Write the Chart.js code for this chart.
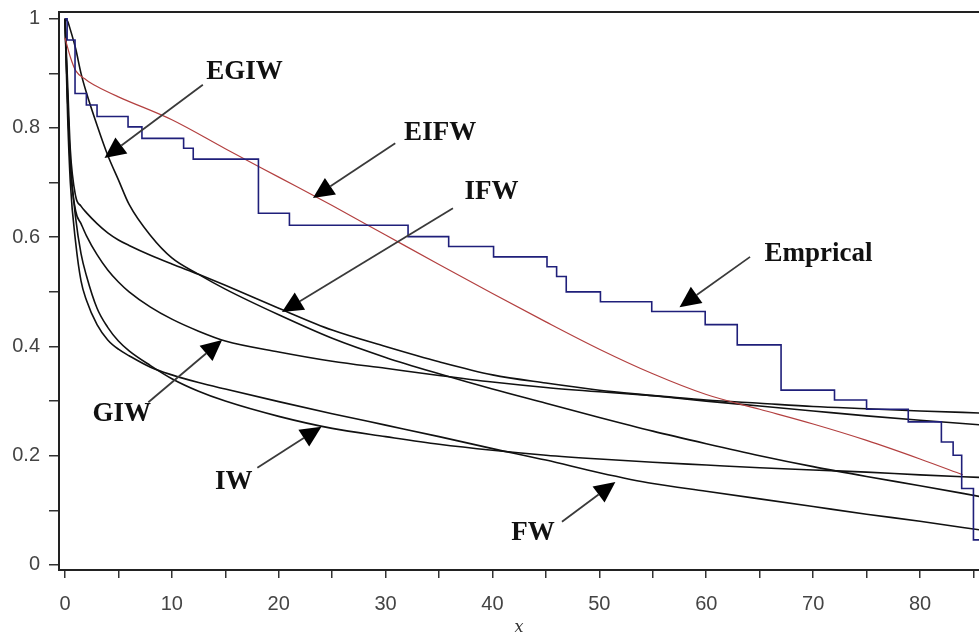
<!DOCTYPE html>
<html>
<head>
<meta charset="utf-8">
<script src="https://cdn.jsdelivr.net/npm/chart.js@4.4.1/dist/chart.umd.min.js"></script>
<style>
  body { margin: 0; background: #fff; }
  canvas { display: block; }
</style>
</head>
<body>
<canvas id="plot" width="979" height="637"></canvas>
<script>
// x grid shared by the fitted survival curves
let xs = [0, 0.25, 0.5, 1, 1.5, 2, 3, 4, 5, 6, 8, 10, 12.5, 15, 20, 25, 30, 35, 40, 45, 50, 55, 60, 65, 70, 75, 80, 86];

let egiw = [1.0, 0.995, 0.98, 0.945, 0.9, 0.865, 0.805, 0.75, 0.705, 0.66, 0.603, 0.562, 0.532, 0.505, 0.458, 0.415, 0.38, 0.35, 0.322, 0.296, 0.27, 0.245, 0.222, 0.2, 0.18, 0.162, 0.145, 0.124];
let ifw = [1.0, 0.88, 0.76, 0.675, 0.657, 0.645, 0.625, 0.608, 0.595, 0.585, 0.567, 0.551, 0.532, 0.512, 0.47, 0.43, 0.4, 0.372, 0.348, 0.333, 0.32, 0.31, 0.3, 0.291, 0.282, 0.273, 0.265, 0.256];
let giw = [1.0, 0.85, 0.73, 0.648, 0.625, 0.603, 0.568, 0.54, 0.518, 0.5, 0.472, 0.45, 0.428, 0.41, 0.39, 0.373, 0.36, 0.347, 0.335, 0.325, 0.317, 0.31, 0.302, 0.296, 0.29, 0.286, 0.282, 0.278];
let iw = [1.0, 0.85, 0.74, 0.635, 0.57, 0.53, 0.47, 0.435, 0.41, 0.392, 0.365, 0.341, 0.318, 0.3, 0.272, 0.25, 0.235, 0.221, 0.21, 0.201, 0.194, 0.188, 0.183, 0.178, 0.174, 0.17, 0.165, 0.16];
let fw = [1.0, 0.82, 0.7, 0.59, 0.52, 0.485, 0.44, 0.412, 0.395, 0.383, 0.362, 0.348, 0.334, 0.322, 0.299, 0.277, 0.256, 0.235, 0.213, 0.192, 0.169, 0.149, 0.135, 0.121, 0.107, 0.093, 0.08, 0.063];

// EIFW (red)
let eifwX = [0, 0.5, 1, 2, 3, 5, 10, 15, 20, 25, 30, 35, 40, 45, 50, 55, 60, 65, 70, 75, 80, 84];
let eifw = [0.965, 0.93, 0.905, 0.888, 0.876, 0.857, 0.815, 0.762, 0.71, 0.658, 0.604, 0.55, 0.497, 0.445, 0.395, 0.35, 0.312, 0.285, 0.258, 0.228, 0.194, 0.165];

// empirical survival (step): value from each x onward
let empX = [0, 0.2, 0.94, 2.0, 3.0, 5.9, 7.2, 11.1, 12.0, 18.1, 21.0, 32.1, 35.9, 40.1, 45.1, 46.0, 46.9, 50.1, 54.9, 59.9, 62.9, 67.0, 72.0, 75.0, 78.9, 82.0, 83.1, 83.9, 85.0, 87];
let empY = [1.0, 0.961, 0.863, 0.842, 0.821, 0.802, 0.781, 0.763, 0.743, 0.644, 0.622, 0.601, 0.583, 0.564, 0.546, 0.528, 0.5, 0.482, 0.464, 0.44, 0.403, 0.32, 0.302, 0.285, 0.262, 0.225, 0.201, 0.14, 0.046, 0.046];

let xTicks = [0, 5, 10, 15, 20, 25, 30, 35, 40, 45, 50, 55, 60, 65, 70, 75, 80, 85];
let yTicks = [0, 0.1, 0.2, 0.3, 0.4, 0.5, 0.6, 0.7, 0.8, 0.9, 1];

// labels with arrows: text position, arrow tail, arrow tip (data units)
let noteText = ['EGIW', 'EIFW', 'IFW', 'Emprical', 'GIW', 'IW', 'FW'];
let noteAt = [[16.8, 0.902], [35.1, 0.791], [39.9, 0.683], [70.5, 0.569], [5.3, 0.276], [15.8, 0.152], [43.8, 0.058]];
let arrowFrom = [[12.9, 0.879], [30.9, 0.772], [36.3, 0.653], [64.1, 0.564], [7.8, 0.298], [18.0, 0.178], [46.5, 0.079]];
let arrowTo = [[3.7, 0.745], [23.2, 0.672], [20.3, 0.463], [57.5, 0.472], [14.7, 0.412], [24.0, 0.253], [51.5, 0.152]];

function pts(xv, yv) {
    return xv.map((x, i) => ({ x: x, y: yv[i] }));
}

function curve(label, yv, color, width) {
    return {
        label: label,
        data: pts(xs, yv),
        borderColor: color,
        borderWidth: width,
        pointRadius: 0,
        cubicInterpolationMode: 'monotone',
        fill: false
    };
}

const framePlugin = {
    id: 'frame',
    afterDraw(chart) {
        let ctx = chart.ctx;
        let a = chart.chartArea;
        ctx.save();
        ctx.strokeStyle = '#222';
        ctx.lineWidth = 2;
        ctx.beginPath();
        ctx.moveTo(a.left, a.top);
        ctx.lineTo(a.right, a.top);
        ctx.stroke();
        ctx.restore();
    }
};

const notesPlugin = {
    id: 'notes',
    afterDatasetsDraw(chart) {
        let ctx = chart.ctx;
        let sx = chart.scales.x, sy = chart.scales.y;
        ctx.save();
        noteText.forEach((t, i) => {
            let x0 = sx.getPixelForValue(arrowFrom[i][0]);
            let y0 = sy.getPixelForValue(arrowFrom[i][1]);
            let x1 = sx.getPixelForValue(arrowTo[i][0]);
            let y1 = sy.getPixelForValue(arrowTo[i][1]);
            let ang = Math.atan2(y1 - y0, x1 - x0);
            let len = 21, half = 10;
            let bx = x1 - len * Math.cos(ang), by = y1 - len * Math.sin(ang);
            ctx.strokeStyle = '#3a3a3a';
            ctx.lineWidth = 1.8;
            ctx.beginPath();
            ctx.moveTo(x0, y0);
            ctx.lineTo(bx, by);
            ctx.stroke();
            ctx.fillStyle = '#000';
            ctx.beginPath();
            ctx.moveTo(x1, y1);
            ctx.lineTo(bx + half * Math.sin(ang), by - half * Math.cos(ang));
            ctx.lineTo(bx - half * Math.sin(ang), by + half * Math.cos(ang));
            ctx.closePath();
            ctx.fill();

            ctx.fillStyle = '#111';
            ctx.font = 'bold 27px "Liberation Serif", serif';
            ctx.textAlign = 'center';
            ctx.textBaseline = 'middle';
            ctx.fillText(t, sx.getPixelForValue(noteAt[i][0]), sy.getPixelForValue(noteAt[i][1]));
        });
        ctx.restore();
    }
};

let tickFont = { family: '"Liberation Sans", sans-serif', size: 20 };

new Chart(document.getElementById('plot'), {
    type: 'line',
    data: {
        datasets: [
            {
                label: 'Emprical',
                data: pts(empX, empY),
                borderColor: '#1f1f7a',
                borderWidth: 1.6,
                pointRadius: 0,
                stepped: 'before',
                fill: false
            },
            {
                label: 'EIFW',
                data: pts(eifwX, eifw),
                borderColor: '#b34040',
                borderWidth: 1.2,
                pointRadius: 0,
                cubicInterpolationMode: 'monotone',
                fill: false
            },
            curve('EGIW', egiw, '#111', 1.6),
            curve('IFW', ifw, '#111', 1.6),
            curve('GIW', giw, '#111', 1.6),
            curve('IW', iw, '#111', 1.6),
            curve('FW', fw, '#111', 1.6)
        ]
    },
    options: {
        responsive: false,
        animation: false,
        layout: { padding: { top: 12, left: 0, right: 0, bottom: 0 } },
        plugins: {
            legend: { display: false },
            tooltip: { enabled: false }
        },
        scales: {
            x: {
                type: 'linear',
                min: -0.56,
                max: 85.52,
                afterBuildTicks: (scale) => { scale.ticks = xTicks.map(v => ({ value: v })); },
                afterFit: (scale) => { scale.height = 67; scale.paddingRight = 0; },
                ticks: {
                    autoSkip: false,
                    maxRotation: 0,
                    padding: 14,
                    color: '#444',
                    font: tickFont,
                    callback: (v) => (v % 10 === 0 ? String(v) : '')
                },
                grid: { drawOnChartArea: false, drawTicks: true, tickLength: 8, color: '#333', lineWidth: 1.5 },
                border: { display: true, color: '#222', width: 2 },
                title: {
                    display: true,
                    text: 'x',
                    color: '#333',
                    font: { family: '"DejaVu Serif", serif', size: 16, style: 'italic' },
                    padding: { top: 0, bottom: 0 }
                }
            },
            y: {
                type: 'linear',
                min: -0.0092,
                max: 1.0123,
                afterBuildTicks: (scale) => { scale.ticks = yTicks.map(v => ({ value: v })); },
                afterFit: (scale) => { scale.width = 59; scale.paddingTop = 0; scale.paddingBottom = 0; },
                ticks: {
                    autoSkip: false,
                    padding: 9,
                    color: '#444',
                    font: tickFont,
                    callback: (v) => {
                        let k = Math.round(v * 10);
                        if (k % 2 !== 0) return '';
                        if (k === 0) return '0';
                        if (k === 10) return '1';
                        return (k / 10).toFixed(1);
                    }
                },
                grid: { drawOnChartArea: false, drawTicks: true, tickLength: 10, color: '#333', lineWidth: 1.5 },
                border: { display: true, color: '#222', width: 2 }
            }
        }
    },
    plugins: [framePlugin, notesPlugin]
});
</script>
</body>
</html>
